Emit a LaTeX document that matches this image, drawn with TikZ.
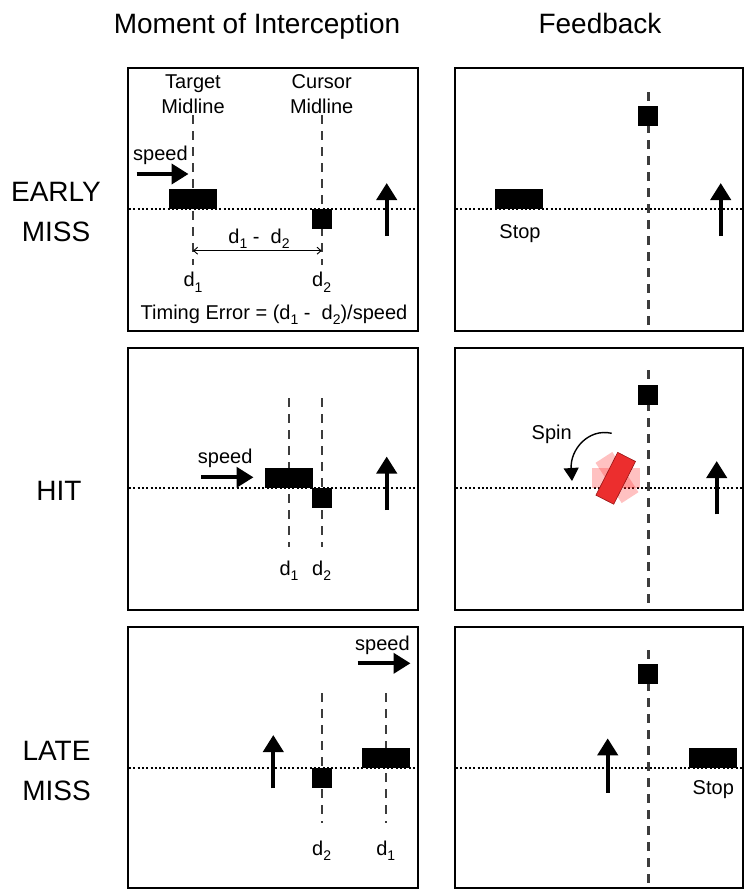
\documentclass[tikz,border=0pt]{standalone}
\usepackage{fontspec}
\setmainfont{Liberation Sans}
\usetikzlibrary{arrows.meta}
\newcommand{\sbs}[1]{\raisebox{-5.5pt}{\fontsize{14}{14}\selectfont #1}}
\begin{document}
\begin{tikzpicture}[x=1pt,y=-1pt,
 panel/.style={draw=black,line width=2.2pt},
 midline/.style={draw={rgb,255:red,60;green,60;blue,60},line width=2.4pt,dash pattern=on 9pt off 7pt},
 dotline/.style={draw=black,line width=2pt,dash pattern=on 2pt off 2.3pt},
 motion/.style={draw=black,line width=4pt,-{Triangle[width=20pt,length=17pt]}},
 bar/.style={fill=black,minimum width=48pt,minimum height=20pt,inner sep=0pt,outer sep=0pt},
 cursorbox/.style={fill=black,minimum width=20pt,minimum height=20pt,inner sep=0pt,outer sep=0pt},
 small/.style={font=\fontsize{20}{25}\selectfont,inner sep=0pt},
 big/.style={font=\fontsize{28}{40}\selectfont,inner sep=0pt},
 redbar/.style={minimum width=48pt,minimum height=20pt,inner sep=0pt,outer sep=0pt},
]
\useasboundingbox (0,0) rectangle (750,889);

% titles
\node[big,anchor=base] (t1) at (257,33) {Moment of Interception};
\node[big,anchor=base] (t2) at (600,33) {Feedback};
\node[big,anchor=base] (r1a) at (56,201.7) {EARLY};
\node[big,anchor=base] (r1b) at (56,241.7) {MISS};
\node[big,anchor=base] (r2) at (59,500) {HIT};
\node[big,anchor=base] (r3a) at (56.5,760) {LATE};
\node[big,anchor=base] (r3b) at (56.5,800) {MISS};

% ===== Row 1 left
\draw[panel] (128,68) rectangle (418,331);
\draw[midline] (193,115) -- (193,265);
\draw[midline] (321.7,115) -- (321.7,265);
\draw[dotline] (129,209.3) -- (417,209.3);
\node[bar] (b1) at (193,199.3) {};
\node[cursorbox] (c1) at (321.7,219.3) {};
\node[small,anchor=base] (tm) at (193,88.5) {Target};
\node[small,anchor=base] (tm2) at (193,113) {Midline};
\node[small,anchor=base] (cm) at (321.7,88.5) {Cursor};
\node[small,anchor=base] (cm2) at (321.7,113) {Midline};
\node[small,anchor=base west] (sp1) at (133,160) {speed};
\coordinate (s1a) at (136.7,174);
\coordinate (s1b) at (188.5,174);
\draw[motion] (s1a) -- (s1b);
\coordinate (u1a) at (386.7,236);
\coordinate (u1b) at (386.7,183);
\draw[motion] (u1a) -- (u1b);
\coordinate (da) at (193,250.7);
\coordinate (db) at (321.7,250.7);
\draw[line width=0.9pt,{Straight Barb[length=4pt,width=7pt]}-{Straight Barb[length=4pt,width=7pt]}] (da) -- (db);
\node[small,anchor=base] (dd) at (259,243.3) {d\sbs{1} -\ \ d\sbs{2}};
\node[small,anchor=base] (d11) at (193,286.7) {d\sbs{1}};
\node[small,anchor=base] (d21) at (321.7,286.7) {d\sbs{2}};
\node[small,anchor=base] (te) at (274,319) {Timing Error = (d\sbs{1} -\ \ d\sbs{2})/speed};

% ===== Row 1 right
\draw[panel] (455,68) rectangle (743,331);
\draw[midline] (648.3,92) -- (648.3,330);
\draw[dotline] (456,209.3) -- (742,209.3);
\node[cursorbox] (c1r) at (648.3,116) {};
\node[bar] (b1r) at (519,199.3) {};
\node[small,anchor=base] (stop1) at (520,238.3) {Stop};
\coordinate (u1ra) at (720.7,236);
\coordinate (u1rb) at (720.7,183);
\draw[motion] (u1ra) -- (u1rb);

% ===== Row 2 left
\draw[panel] (128,348) rectangle (418,610);
\draw[midline] (289,398) -- (289,547);
\draw[midline] (321.7,398) -- (321.7,547);
\draw[dotline] (129,488.3) -- (417,488.3);
\node[bar] (b2) at (289,478.3) {};
\node[cursorbox] (c2) at (321.7,498.3) {};
\node[small,anchor=base west] (sp2) at (197.7,463.3) {speed};
\coordinate (s2a) at (201,477.3);
\coordinate (s2b) at (253.5,477.3);
\draw[motion] (s2a) -- (s2b);
\coordinate (u2a) at (386.7,510);
\coordinate (u2b) at (386.7,456.5);
\draw[motion] (u2a) -- (u2b);
\node[small,anchor=base] (d12) at (289,575) {d\sbs{1}};
\node[small,anchor=base] (d22) at (321.7,575) {d\sbs{2}};

% ===== Row 2 right
\draw[panel] (455,348) rectangle (743,610);
\draw[midline] (648.3,370) -- (648.3,609);
\draw[dotline] (456,488.3) -- (742,488.3);
\node[cursorbox] (c2r) at (648.3,394.7) {};
\node[redbar,fill=red!80!white,fill opacity=0.3] (p1) at (616.3,478.3) {};
\node[redbar,fill=red!80!white,fill opacity=0.3,rotate=-57] (p2) at (617,477.5) {};
\node[redbar,fill={rgb,255:red,236;green,46;blue,46},draw={rgb,255:red,150;green,20;blue,20},line width=0.6pt,rotate=63] (rb) at (615.7,478.3) {};
\node[small,anchor=base] (spin) at (551.7,439.3) {Spin};
\coordinate (sp0) at (611.7,433.3);
\coordinate (sp1e) at (572,481);
\draw[line width=1.4pt,-{Triangle[width=15pt,length=13pt]}] (sp0) .. controls (588,428) and (570,450) .. (sp1e);
\coordinate (u2ra) at (716.7,514.3);
\coordinate (u2rb) at (716.7,461);
\draw[motion] (u2ra) -- (u2rb);

% ===== Row 3 left
\draw[panel] (128,627) rectangle (418,888);
\draw[midline] (321.7,693.3) -- (321.7,823.3);
\draw[midline] (385.7,693.3) -- (385.7,823.3);
\draw[dotline] (129,767.7) -- (417,767.7);
\node[bar] (b3) at (386,757.7) {};
\node[cursorbox] (c3) at (321.7,777.7) {};
\node[small,anchor=base west] (sp3) at (355,650) {speed};
\coordinate (s3a) at (357.7,663.3);
\coordinate (s3b) at (410.5,663.3);
\draw[motion] (s3a) -- (s3b);
\coordinate (u3a) at (273.3,788.3);
\coordinate (u3b) at (273.3,735);
\draw[motion] (u3a) -- (u3b);
\node[small,anchor=base] (d23) at (321.7,855) {d\sbs{2}};
\node[small,anchor=base] (d13) at (385.7,855) {d\sbs{1}};

% ===== Row 3 right
\draw[panel] (455,627) rectangle (743,888);
\draw[midline] (648.3,650) -- (648.3,887);
\draw[dotline] (456,767.7) -- (742,767.7);
\node[cursorbox] (c3r) at (648.3,674) {};
\node[bar] (b3r) at (712.5,757.7) {};
\node[small,anchor=base] (stop3) at (713.3,794) {Stop};
\coordinate (u3ra) at (607.7,792.7);
\coordinate (u3rb) at (607.7,738.3);
\draw[motion] (u3ra) -- (u3rb);
\end{tikzpicture}
\end{document}
